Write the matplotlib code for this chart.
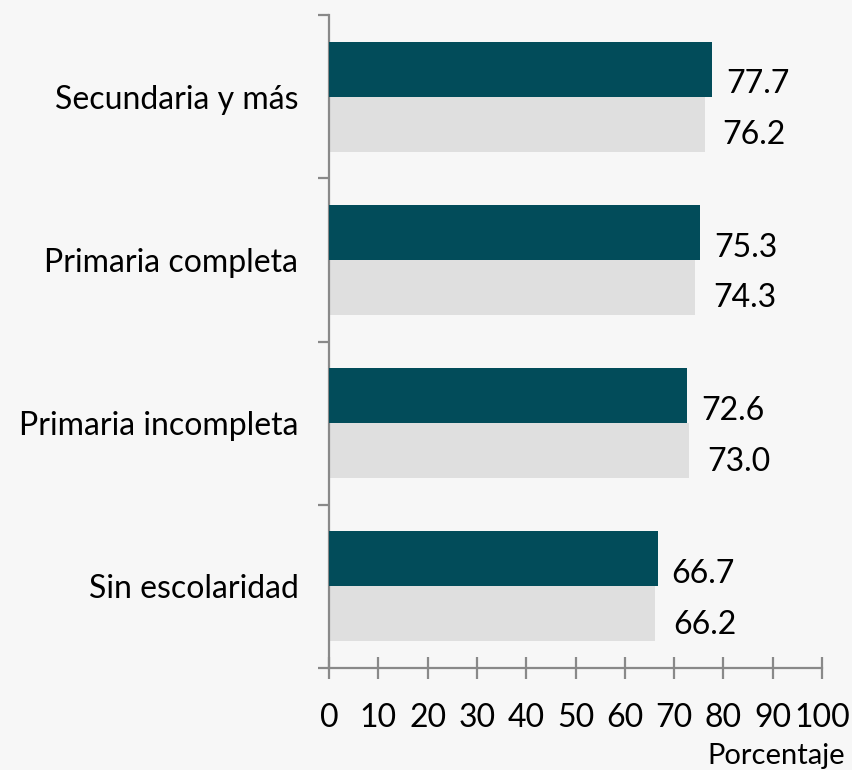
import numpy as np
import matplotlib
matplotlib.use("Agg")
import matplotlib.pyplot as plt

plt.rcParams['font.family'] = ['Lato', 'DejaVu Sans']

categorias = ["Sin escolaridad", "Primaria incompleta", "Primaria completa", "Secundaria y más"]
serie_oscura = [66.7, 72.6, 75.3, 77.7]
serie_clara = [66.2, 73.0, 74.3, 76.2]
xticks = [0, 10, 20, 30, 40, 50, 60, 70, 80, 90, 100]

fondo = "#f7f7f7"
oscuro = "#024c5a"
claro = "#dfdfdf"
eje = "#898989"

fig = plt.figure(figsize=(8.52, 7.70), dpi=100, facecolor=fondo)
ax = fig.add_axes([329/852, 1-668/770, (822-329)/852, (668-15)/770])
ax.set_facecolor(fondo)

y = np.arange(len(categorias))
h = 0.337
ax.barh(y + h/2, serie_oscura, height=h, color=oscuro, zorder=3)
ax.barh(y - h/2, serie_clara, height=h, color=claro, zorder=2)

for yi, v in zip(y, serie_oscura):
    ax.annotate(f"{v:.1f}", (v, yi + h/2), xytext=(10, -11), textcoords="offset points",
                ha="left", va="center", fontsize=23)
for yi, v in zip(y, serie_clara):
    ax.annotate(f"{v:.1f}", (v, yi - h/2), xytext=(13, -8), textcoords="offset points",
                ha="left", va="center", fontsize=23)

ax.set_xlim(0, 100)
ax.set_ylim(-0.5, len(categorias) - 0.5)
ax.set_xticks(xticks)
ax.set_yticks(y)
ax.set_yticklabels(categorias)
ax.set_yticks(np.arange(-0.5, len(categorias)), minor=True)

for s in ["top", "right"]:
    ax.spines[s].set_visible(False)
for s in ["left", "bottom"]:
    ax.spines[s].set_color(eje)
    ax.spines[s].set_linewidth(1.6)

ax.tick_params(axis="y", which="major", length=0, pad=22, labelsize=23)
ax.tick_params(axis="y", which="minor", length=8, width=1.6, color=eje, direction="out")
ax.tick_params(axis="x", length=16, width=1.6, color=eje, direction="inout", pad=17, labelsize=23)

fig.text(845/852, 1-764/770, "Porcentaje", ha="right", va="baseline", fontsize=21)

fig.savefig("out.png", dpi=100, facecolor=fondo)
